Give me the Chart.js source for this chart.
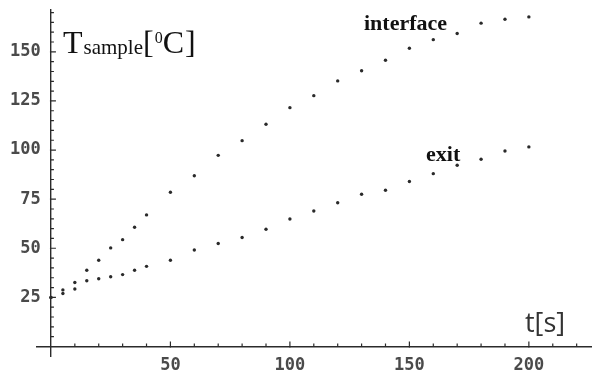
<!DOCTYPE html>
<html>
<head>
<meta charset="utf-8">
<script src="https://cdn.jsdelivr.net/npm/chart.js@4/dist/chart.umd.min.js"></script>
<style>
  html, body { margin: 0; padding: 0; background: #fff; }
  #wrap { width: 595px; height: 376px; }
</style>
</head>
<body>
<div id="wrap"><canvas id="grafico" width="595" height="376"></canvas></div>
<script>
// tempo de medição [s]
const tempo = [0, 5, 10, 15, 20, 25, 30, 35, 40, 50, 60, 70, 80, 90, 100, 110, 120, 130, 140, 150, 160, 170, 180, 190, 200];
// temperatura na interface [°C]
const interfaceT = [25, 28.8, 32.6, 38.8, 43.9, 50.2, 54.4, 60.7, 67.0, 78.5, 86.9, 97.3, 104.8, 113.1, 121.6, 127.7, 135.2, 140.4, 145.7, 151.8, 156.2, 159.3, 164.6, 166.6, 167.8];
// temperatura na saída [°C]
const saidaT = [25, 27.0, 29.3, 33.5, 34.5, 35.5, 36.6, 38.8, 40.8, 43.9, 49.1, 52.4, 55.5, 59.7, 64.9, 69.0, 73.2, 77.5, 79.5, 84.0, 88.0, 92.3, 95.3, 99.5, 101.6];

// rótulos dos eixos
const ticksX = [50, 100, 150, 200];
const ticksY = [25, 50, 75, 100, 125, 150];
const menoresX = [10, 20, 30, 40, 60, 70, 80, 90, 110, 120, 130, 140, 160, 170, 180, 190, 210, 220];
const menoresY = [5, 10, 15, 20, 30, 35, 40, 45, 55, 60, 65, 70, 80, 85, 90, 95, 105, 110, 115, 120, 130, 135, 140, 145, 155, 160, 165, 170];

const pontos = (ys) => tempo.map((t, i) => ({ x: t, y: ys[i] }));

const corEixo = '#2b2b2b';
const fonteTick = { family: 'DejaVu Sans Mono', size: 17, weight: 'bold' };

// desenha os tracinhos (para dentro) e os textos
const decoracao = {
    id: 'decoracao',
    afterDraw(chart) {
        const ctx = chart.ctx;
        const sx = chart.scales.x, sy = chart.scales.y;
        const x0 = sx.getPixelForValue(0), y0 = sy.getPixelForValue(0);
        ctx.save();
        ctx.strokeStyle = corEixo;
        ctx.lineWidth = 1.2;
        ctx.beginPath();
        ticksX.forEach(v => { const p = sx.getPixelForValue(v); ctx.moveTo(p, y0 + 1); ctx.lineTo(p, y0 - 5); });
        menoresX.forEach(v => { const p = sx.getPixelForValue(v); ctx.moveTo(p, y0); ctx.lineTo(p, y0 - 3); });
        ticksY.forEach(v => { const p = sy.getPixelForValue(v); ctx.moveTo(x0 - 1, p); ctx.lineTo(x0 + 5, p); });
        menoresY.forEach(v => { const p = sy.getPixelForValue(v); ctx.moveTo(x0, p); ctx.lineTo(x0 + 3, p); });
        ctx.stroke();

        // título do eixo y: T_sample[⁰C]
        ctx.fillStyle = '#111';
        ctx.textBaseline = 'alphabetic';
        ctx.textAlign = 'left';
        let x = 63;
        const trecho = (txt, tam, base) => {
            ctx.font = tam + 'px "Liberation Serif"';
            ctx.fillText(txt, x, base);
            x += ctx.measureText(txt).width;
        };
        trecho('T', 32, 53);
        x += 1;
        trecho('sample', 21, 54);
        trecho('[', 32, 53);
        x += 1;
        trecho('0', 16, 43);
        trecho('C', 32, 53);
        x += 1;
        trecho(']', 32, 53);

        // nomes das séries
        ctx.font = 'bold 22px "Liberation Serif"';
        ctx.fillText('interface', 364, 30);
        ctx.fillText('exit', 426, 161);

        // título do eixo x
        ctx.fillStyle = '#333';
        ctx.font = '27px "Open Sans"';
        ctx.fillText('t[s]', 525, 332);
        ctx.restore();
    }
};

const semPadding = (s) => { s.paddingTop = 0; s.paddingBottom = 0; s.paddingLeft = 0; s.paddingRight = 0; };

new Chart(document.getElementById('grafico'), {
    type: 'scatter',
    data: {
        datasets: [
            { label: 'interface', data: pontos(interfaceT), backgroundColor: '#2a2a2a', borderWidth: 0, pointRadius: 1.7 },
            { label: 'exit', data: pontos(saidaT), backgroundColor: '#2a2a2a', borderWidth: 0, pointRadius: 1.7 }
        ]
    },
    options: {
        responsive: false,
        animation: false,
        layout: { padding: { left: 36.6, right: 0, top: 10, bottom: 19.3 } },
        plugins: { legend: { display: false }, tooltip: { enabled: false } },
        scales: {
            x: {
                type: 'linear', min: -6, max: 226,
                position: { y: 0 },
                grid: { display: false, drawTicks: false },
                border: { display: true, color: corEixo, width: 1.4 },
                afterBuildTicks: (s) => { s.ticks = ticksX.map(v => ({ value: v })); },
                afterFit: semPadding,
                ticks: { font: fonteTick, color: '#4a4a4a', padding: 9 }
            },
            y: {
                type: 'linear', min: -5.2, max: 171.3,
                position: { x: 0 },
                grid: { display: false, drawTicks: false },
                border: { display: true, color: corEixo, width: 1.4 },
                afterBuildTicks: (s) => { s.ticks = ticksY.map(v => ({ value: v })); },
                afterFit: semPadding,
                // com posição no eixo, o Chart.js encosta o rótulo na linha: um espaço dá o afastamento
                ticks: { font: fonteTick, color: '#4a4a4a', callback: (v) => v + ' ' }
            }
        }
    },
    plugins: [decoracao]
});
</script>
</body>
</html>
